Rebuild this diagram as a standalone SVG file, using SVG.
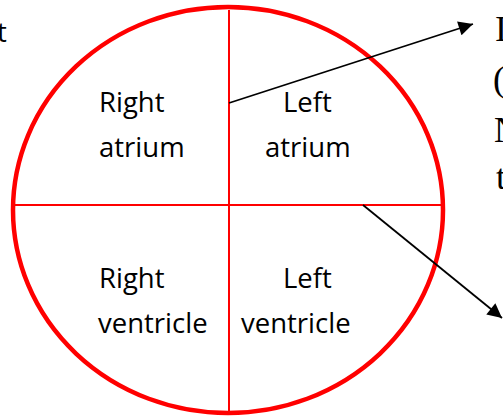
<svg xmlns="http://www.w3.org/2000/svg" width="503" height="418" viewBox="0 0 503 418">
<style>
.lbl{font-family:"Open Sans","Noto Sans",sans-serif;font-size:27.5px;fill:#000}
.ser{font-family:"Liberation Serif","Times New Roman",serif;font-size:36px;fill:#000}
.div{stroke:#ff0000;stroke-width:2;fill:none}
.con{stroke:#000;stroke-width:1.8;fill:none}
</style>
<defs>
<marker id="ah" viewBox="0 0 10 10" refX="10" refY="5" markerWidth="9" markerHeight="8" markerUnits="strokeWidth" orient="auto">
<path d="M0,0 L10,5 L0,10 Z" fill="#000"/>
</marker>
</defs>
<rect width="503" height="418" fill="#fff"/>
<text class="lbl" x="-3" y="42">t</text>
<text class="ser" x="495" y="41">I</text>
<text class="ser" x="493" y="91">(</text>
<text class="ser" x="494" y="142">N</text>
<text class="ser" x="496" y="189">t</text>
<g id="heart">
<ellipse cx="228" cy="210" rx="215" ry="203" fill="none" stroke="#ff0000" stroke-width="4.5"/>
<line class="div" x1="229" y1="10" x2="229" y2="412"/>
<line class="div" x1="14" y1="205" x2="443" y2="205"/>
</g>
<g id="right-atrium"><text class="lbl" x="99" y="112">Right</text><text class="lbl" x="99" y="157">atrium</text></g>
<g id="left-atrium"><text class="lbl" x="283" y="112">Left</text><text class="lbl" x="265" y="157">atrium</text></g>
<g id="right-ventricle"><text class="lbl" x="99" y="288">Right</text><text class="lbl" x="98" y="333">ventricle</text></g>
<g id="left-ventricle"><text class="lbl" x="283" y="288">Left</text><text class="lbl" x="241" y="333">ventricle</text></g>
<g id="connectors">
<line class="con" x1="229" y1="103" x2="473" y2="24" marker-end="url(#ah)"/>
<line class="con" x1="363" y1="205" x2="502" y2="318" marker-end="url(#ah)"/>
</g>
</svg>
